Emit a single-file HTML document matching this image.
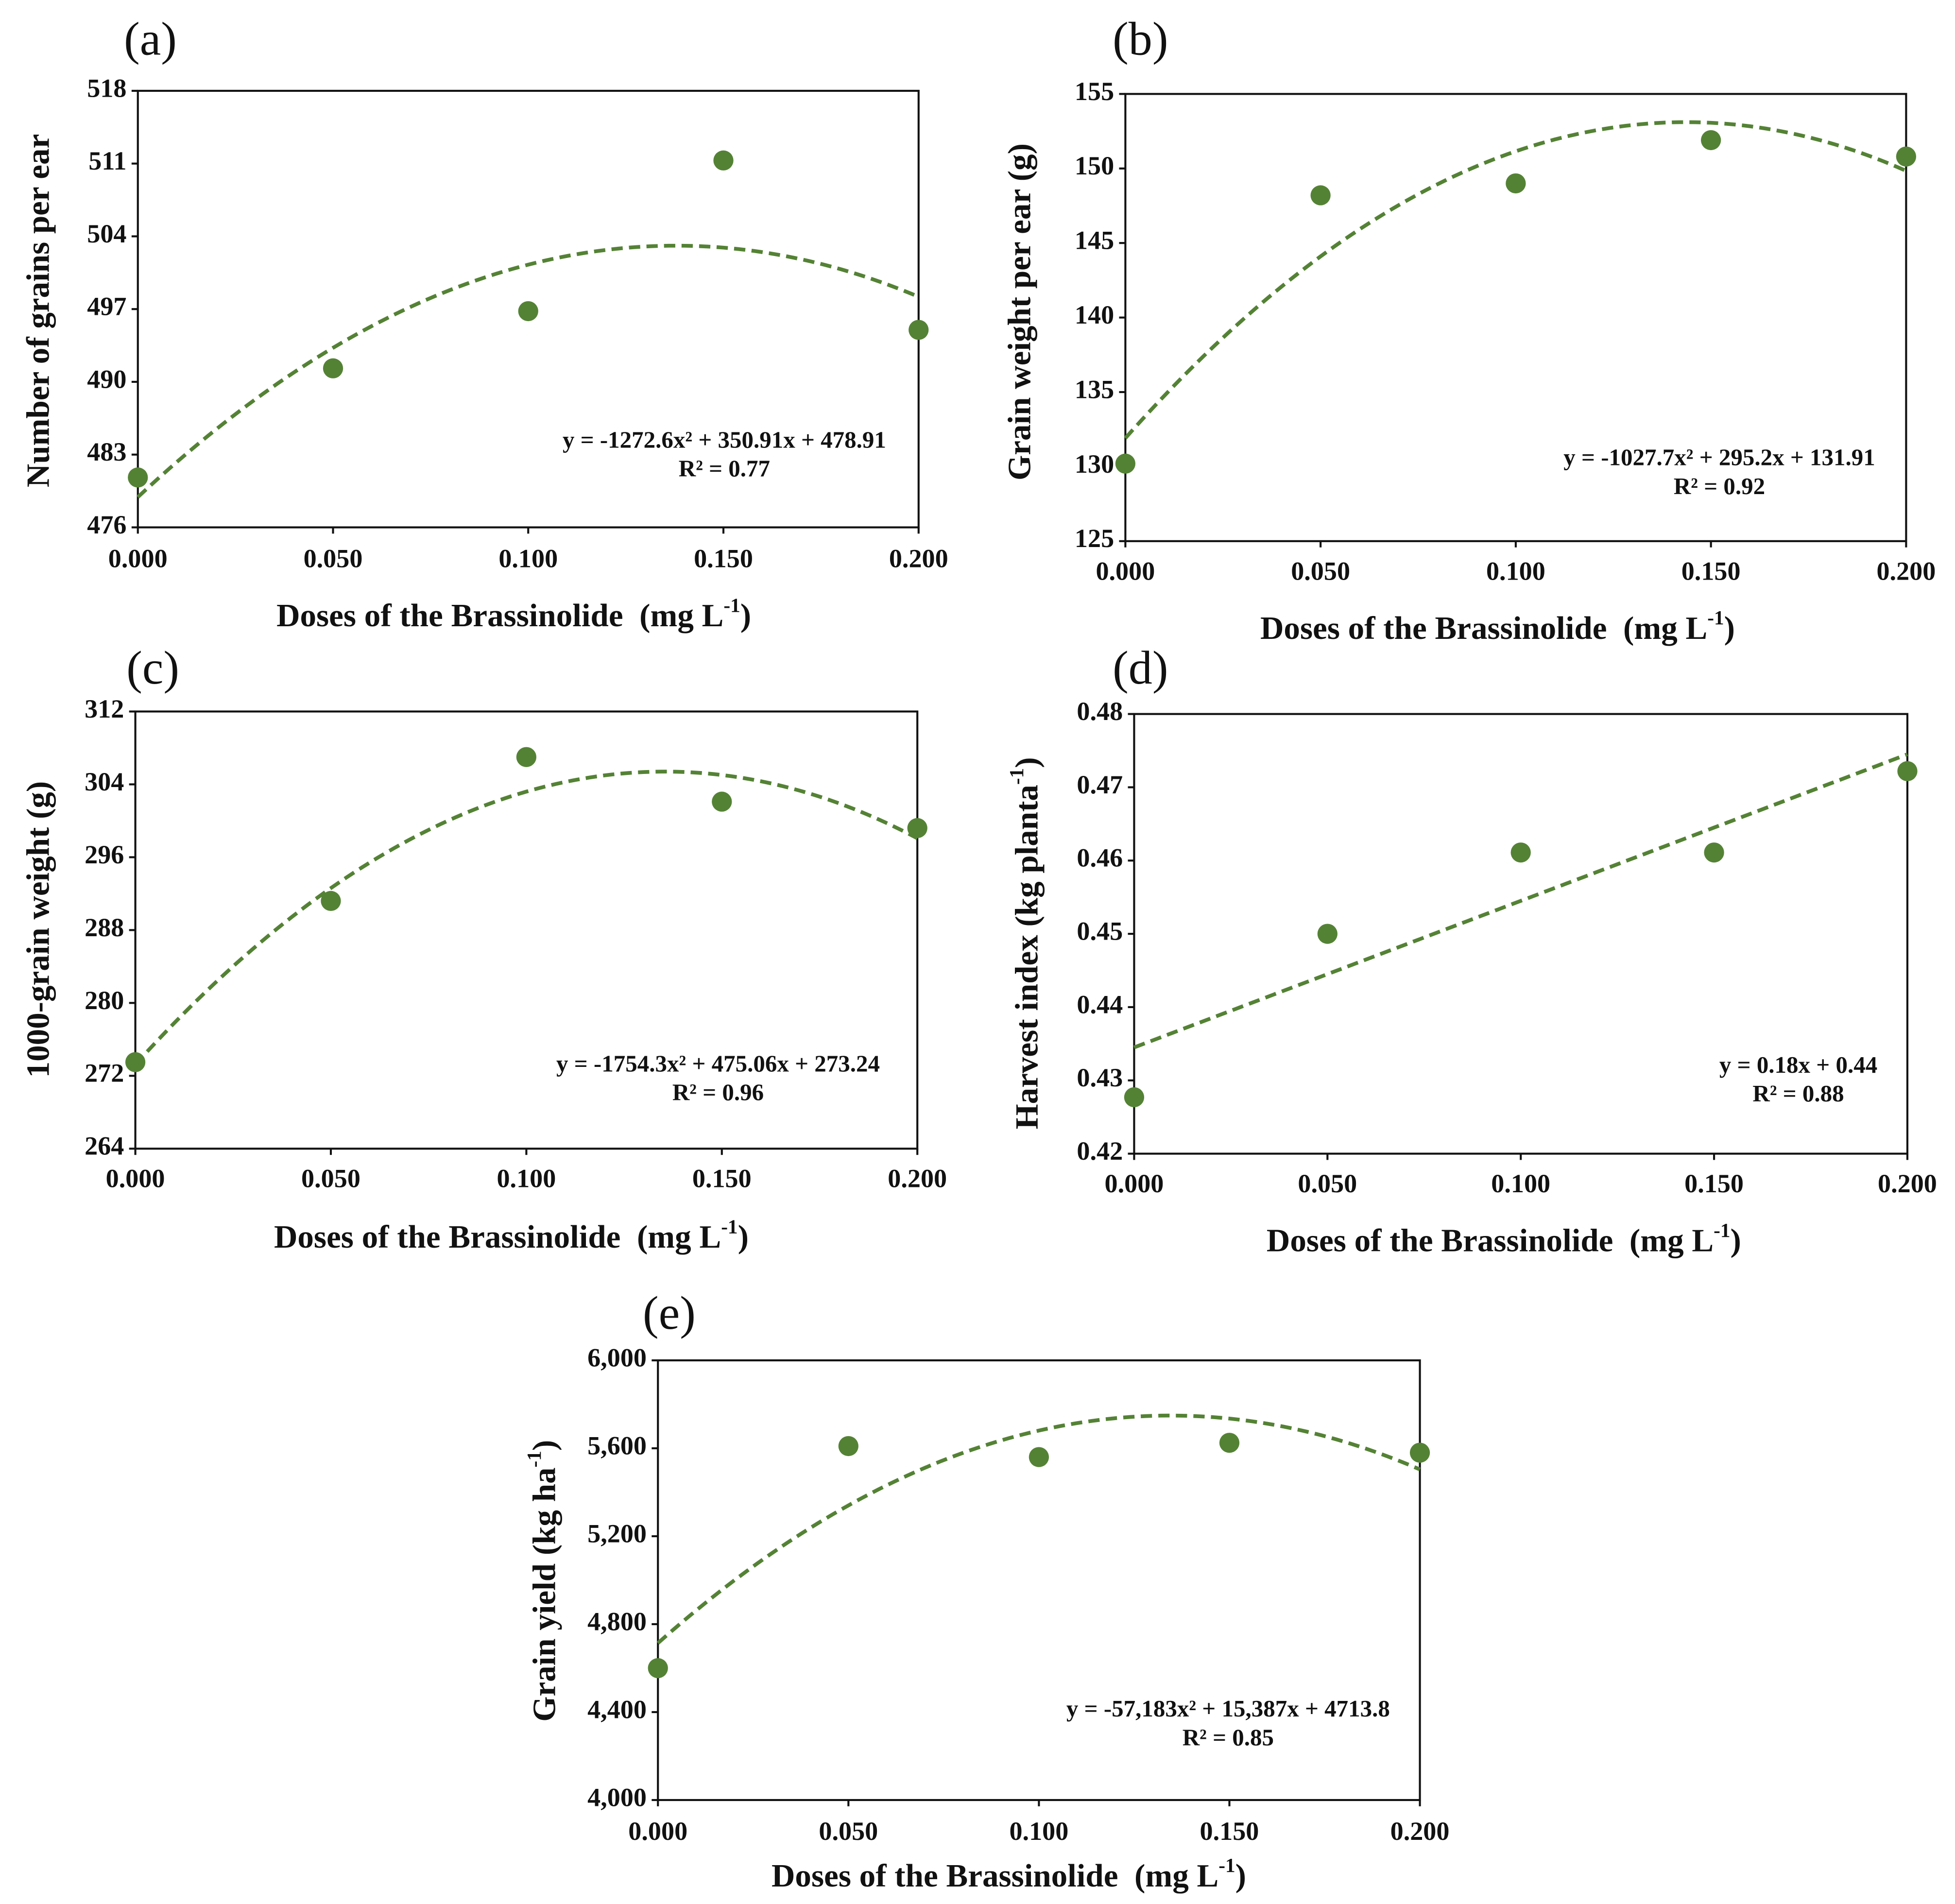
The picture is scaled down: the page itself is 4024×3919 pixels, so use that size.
<!DOCTYPE html>
<html><head><meta charset="utf-8"><style>
html,body{margin:0;padding:0;background:#fff}
svg{display:block}
text{font-family:"Liberation Serif",serif;fill:#111;white-space:pre}
</style></head><body>
<svg id="fig" xmlns="http://www.w3.org/2000/svg" width="4024" height="3919" viewBox="0 0 1560 1520" preserveAspectRatio="none"></svg>
<script>
const doses = [0, 0.05, 0.10, 0.15, 0.20];
const xTickLabels = ["0.000","0.050","0.100","0.150","0.200"];
const valsA = [480.8, 491.3, 496.8, 511.3, 495.0];
const valsB = [130.2, 148.2, 149.0, 151.9, 150.8];
const valsC = [273.5, 291.2, 307.0, 302.1, 299.2];
const valsD = [0.4277, 0.4500, 0.4611, 0.4611, 0.4722];
const valsE = [4600, 5610, 5560, 5625, 5580];
const ticksA = [476,483,490,497,504,511,518];
const ticksB = [125,130,135,140,145,150,155];
const ticksC = [264,272,280,288,296,304,312];
const ticksD = [0.42,0.43,0.44,0.45,0.46,0.47,0.48];
const ticksE = [4000,4400,4800,5200,5600,6000];
const fitA = [478.91, 350.91, -1272.6];
const fitB = [131.91, 295.2, -1027.7];
const fitC = [273.24, 475.06, -1754.3];
const fitD = [0.4345, 0.2, 0];
const fitE = [4713.8, 15387, -57183];

const NS="http://www.w3.org/2000/svg";
const svg=document.getElementById('fig');
function mk(tag,attrs,parent){const e=document.createElementNS(NS,tag);for(const k in attrs)e.setAttribute(k,attrs[k]);(parent||svg).appendChild(e);return e;}

const panels=[
 {id:'a',L:110,R:733,T:72.5,B:421,vals:valsA,ticks:ticksA,fmt:v=>String(v),fit:fitA,lab:[120,35],xt:448,xtitle:[410,494],ytitle:[33,248],ytxt:'Number of grains per ear',eq:[578,353,'y = -1272.6x','² + 350.91x + 478.91','R² = 0.77']},
 {id:'b',L:898,R:1521,T:75,B:432,vals:valsB,ticks:ticksB,fmt:v=>String(v),fit:fitB,lab:[910,35],xt:458,xtitle:[1195,504],ytitle:[816,249],ytxt:'Grain weight per ear (g)',eq:[1372,367,'y = -1027.7x','² + 295.2x + 131.91','R² = 0.92']},
 {id:'c',L:108,R:732,T:568,B:917,vals:valsC,ticks:ticksC,fmt:v=>String(v),fit:fitC,lab:[122,537],xt:943,xtitle:[408,990],ytitle:[33,742],ytxt:'1000-grain weight (g)',eq:[573,851,'y = -1754.3x','² + 475.06x + 273.24','R² = 0.96']},
 {id:'d',L:905,R:1522,T:570,B:921,vals:valsD,ticks:ticksD,fmt:v=>v.toFixed(2),fit:fitD,lab:[910,537],xt:947,xtitle:[1200,993],ytitle:[822,753],ytxt:'Harvest index (kg planta',ysup:'-1',eq:[1435,852,'y = 0.18x + 0.44','','R² = 0.88']},
 {id:'e',L:525,R:1133,T:1086,B:1437,vals:valsE,ticks:ticksE,fmt:v=>v.toLocaleString('en-US'),fit:fitE,lab:[534,1052],xt:1464,xtitle:[805,1500],ytitle:[437,1262],ytxt:'Grain yield (kg ha',ysup:'-1',eq:[980,1366,'y = -57,183x','² + 15,387x + 4713.8','R² = 0.85']}
];

panels.forEach(p=>{
 const g=mk('g',{});
 
 
 const y0=p.ticks[0], y1=p.ticks[p.ticks.length-1];
 const sx=x=>p.L+(x-0)/(0.2)*(p.R-p.L);
 const sy=y=>p.B-(y-y0)/(y1-y0)*(p.B-p.T);
 const lbl=mk('text',{x:p.lab[0],y:p.lab[1],'font-size':38,'text-anchor':'middle','dominant-baseline':'middle'},g);
 lbl.textContent='('+p.id+')';
 
 
 const frame=mk('rect',{x:p.L,y:p.T,width:p.R-p.L,height:p.B-p.T,fill:'none',stroke:'#111','stroke-width':1.6},g);
 
 
 p.ticks.forEach(t=>{
  const y=sy(t);
  mk('line',{x1:p.L-5,x2:p.L,y1:y,y2:y,stroke:'#111','stroke-width':1.6},g);
  const tx=mk('text',{x:p.L-9,y:y,'font-size':21,'font-weight':'bold','text-anchor':'end','dominant-baseline':'middle'},g);
  tx.textContent=p.fmt(t);
  
  
 });
 doses.forEach((d,i)=>{
  const x=sx(d);
  mk('line',{x1:x,x2:x,y1:p.B,y2:p.B+5,stroke:'#111','stroke-width':1.6},g);
  const tx=mk('text',{x:x,y:p.xt,'font-size':21,'font-weight':'bold','text-anchor':'middle','dominant-baseline':'middle'},g);
  tx.textContent=xTickLabels[i];
  
  
 });
 const xt=mk('text',{x:p.xtitle[0],y:p.xtitle[1],'font-size':26,'font-weight':'bold','text-anchor':'middle','dominant-baseline':'middle'},g);
 
 
 xt.innerHTML='Doses of the Brassinolide  (mg L<tspan font-size="16" dy="-9">-1</tspan><tspan dy="9">)</tspan>';
 const yt=mk('text',{x:0,y:0,'font-size':26,'font-weight':'bold','text-anchor':'middle','dominant-baseline':'middle',transform:`translate(${p.ytitle[0]},${p.ytitle[1]}) rotate(-90)`},g);
 
 
 if(p.ysup) yt.innerHTML=p.ytxt+'<tspan font-size="16" dy="-9">'+p.ysup+'</tspan><tspan dy="9">)</tspan>';
 else yt.textContent=p.ytxt;
 let dstr='';
 for(let k=0;k<=100;k++){const x=0.2*k/100;const y=p.fit[0]+p.fit[1]*x+p.fit[2]*x*x;dstr+=(k?'L':'M')+sx(x).toFixed(2)+','+sy(y).toFixed(2);}
 const tl=mk('path',{d:dstr,fill:'none',stroke:'#548235','stroke-width':3,'stroke-dasharray':'9,5'},g);
 
 
 p.vals.forEach((v,i)=>{
  const c=mk('circle',{cx:sx(doses[i]),cy:sy(v),r:8,fill:'#548235'},g);
  
  
 });
 const e1=mk('text',{x:p.eq[0],y:p.eq[1],'font-size':19,'font-weight':'bold','text-anchor':'middle','dominant-baseline':'middle'},g);
 
 
 e1.textContent=p.eq[2]+p.eq[3];
 const e2=mk('text',{x:p.eq[0],y:p.eq[1]+23,'font-size':19,'font-weight':'bold','text-anchor':'middle','dominant-baseline':'middle'},g);
 
 
 e2.textContent=p.eq[4];
});
</script>
</body></html>
